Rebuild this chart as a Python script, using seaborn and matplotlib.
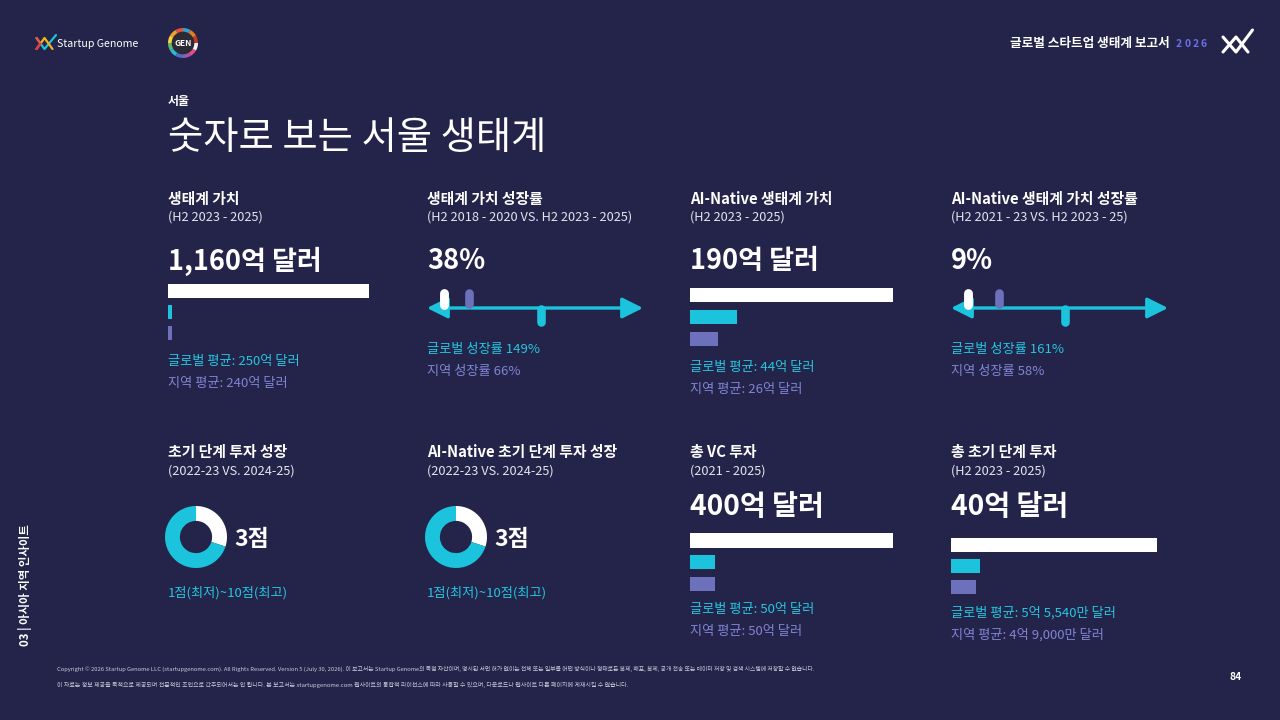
import numpy as np
import pandas as pd
import matplotlib
matplotlib.use("Agg")
import matplotlib.pyplot as plt
import seaborn as sns

# ---------------- data ----------------
row1_titles = ["생태계 가치", "생태계 가치 성장률", "AI-Native 생태계 가치", "AI-Native 생태계 가치 성장률"]
row1_periods = ["(H2 2023 - 2025)", "(H2 2018 - 2020 VS. H2 2023 - 2025)",
                "(H2 2023 - 2025)", "(H2 2021 - 23 VS. H2 2023 - 25)"]
row1_headlines = ["1,160억 달러", "38%", "190억 달러", "9%"]

row2_titles = ["초기 단계 투자 성장", "AI-Native 초기 단계 투자 성장", "총 VC 투자", "총 초기 단계 투자"]
row2_periods = ["(2022-23 VS. 2024-25)", "(2022-23 VS. 2024-25)", "(2021 - 2025)", "(H2 2023 - 2025)"]
row2_headlines = ["3점", "3점", "400억 달러", "40억 달러"]

bar_groups = ["서울", "글로벌 평균", "지역 평균"]
eco_value = [1160, 25, 24]          # 억 달러 (bar lengths as drawn)
ai_eco_value = [190, 44, 26]        # 억 달러
vc_total = [400, 50, 50]            # 억 달러
early_total = [40, 5.554, 4.9]      # 억 달러

eco_value_labels = ["글로벌 평균: 250억 달러", "지역 평균: 240억 달러"]
ai_eco_labels = ["글로벌 평균: 44억 달러", "지역 평균: 26억 달러"]
vc_labels = ["글로벌 평균: 50억 달러", "지역 평균: 50억 달러"]
early_labels = ["글로벌 평균: 5억 5,540만 달러", "지역 평균: 4억 9,000만 달러"]

growth_groups = ["서울", "지역", "글로벌"]
eco_growth = [38, 66, 149]          # %
ai_growth = [9, 58, 161]            # %
eco_growth_labels = ["글로벌 성장률 149%", "지역 성장률 66%"]
ai_growth_labels = ["글로벌 성장률 161%", "지역 성장률 58%"]

score_parts = ["점수", "나머지"]
early_score = [3, 7]                # 3 of 10
ai_early_score = [3, 7]
score_scale_label = "1점(최저)~10점(최고)"

footer_1 = ("Copyright © 2026 Startup Genome LLC (startupgenome.com). All Rights Reserved. Version 5 (July 30, 2026). "
            "이 보고서는 Startup Genome의 독점 자산이며, 명시된 서면 허가 없이는 전체 또는 일부를 어떤 방식이나 형태로든 "
            "복제, 배포, 복제, 공개 전송 또는 데이터 저장 및 검색 시스템에 저장할 수 없습니다.")
footer_2 = ("이 자료는 정보 제공을 목적으로 제공되며 전문적인 조언으로 간주되어서는 안 됩니다. "
            "본 보고서는 startupgenome.com 웹사이트의 통합적 라이선스에 따라 사용할 수 있으며, "
            "다운로드나 웹사이트 다른 페이지에 게재시킬 수 없습니다.")

# ---------------- style ----------------
BG = "#24244a"
WHITE = "#ffffff"
CYAN = "#1bc4dc"
PURPLE = "#6d70bb"
CYAN_TXT = "#25c6df"
PURPLE_TXT = "#8184d3"
SUB_TXT = "#e4e4ee"

sns.set_theme(style="white")
plt.rcParams["font.family"] = ["Noto Sans CJK KR", "DejaVu Sans"]

W, H = 1280, 720
fig = plt.figure(figsize=(12.8, 7.2), dpi=100, facecolor=BG)


def pax(x0, y0, w, h):
    ax = fig.add_axes([x0 / W, 1 - (y0 + h) / H, w / W, h / H])
    ax.set_facecolor("none")
    return ax


ax0 = pax(0, 0, W, H)
ax0.set_xlim(0, W)
ax0.set_ylim(H, 0)
ax0.axis("off")

DY = 2  # baseline correction for the CJK font metrics


def txt(x, y, s, size, color=WHITE, weight="normal", ha="left", **kw):
    ax0.text(x, y + DY, s, fontsize=size, color=color, fontweight=weight, ha=ha, va="center", **kw)


# ---------------- header ----------------
# Startup Genome logo
ax0.plot([36.5, 44.5, 56], [38, 49, 35], color="#1bc4dc", lw=1.6, solid_capstyle="round")
ax0.plot([36.5, 40.5], [38, 43.5], color="#f0523a", lw=1.6, solid_capstyle="round")
ax0.plot([36.5, 44.5, 52.5], [49, 38, 49], color="#f6b21c", lw=1.6, solid_capstyle="round")
ax0.plot([36.5, 40.5], [49, 43.5], color="#e8334a", lw=1.6, solid_capstyle="round")
txt(57, 42, "Startup Genome", 7.6)

# GEN badge
gax = pax(168, 28, 30, 30)
ring_cols = ["#e94f3d", "#f29f2d", "#f7d23e", "#63b76a", "#2fb5d6", "#4a6fc4",
             "#9b59b6", "#e84d8a", "#f4f4f4", "#c0392b", "#e67e22", "#3aa0c8"]
gax.pie([1] * 12, colors=ring_cols, startangle=90, wedgeprops=dict(width=0.3, linewidth=0))
gax.add_patch(plt.Circle((0, 0), 0.71, color="#2b2b35"))
gax.text(0, -0.05, "GEN", color=WHITE, fontsize=6, fontweight="bold", ha="center", va="center")
gax.set_xlim(-1, 1)
gax.set_ylim(-1, 1)

# right header
txt(1170, 42, "글로벌 스타트업 생태계 보고서", 9.1, weight="bold", ha="right")
for k, ch in enumerate("2026"):
    txt(1176 + k * 8.3, 42, ch, 7.4, color="#6b70e6", weight="bold")
ax0.plot([1223, 1236, 1252.5], [37, 52, 30], color=WHITE, lw=2.2, solid_capstyle="round", solid_joinstyle="round")
ax0.plot([1223, 1236, 1248], [52, 37, 52], color=WHITE, lw=2.2, solid_capstyle="round", solid_joinstyle="round")

# titles
txt(168, 100, "서울", 8.6, weight="bold")
txt(168, 136, "숫자로 보는 서울 생태계", 27.6, weight="light")

# side label
ax0.text(25, 585, "03 | 아시아 지역 인사이트", rotation=90, fontsize=8.2, color=WHITE,
         fontweight="bold", ha="center", va="center")

# footer
txt(57, 667, footer_1, 4.2, color="#c9c9d9")
txt(57, 683, footer_2, 4.3, color="#c9c9d9")
txt(1236, 675, "84", 7.4, weight="bold", ha="center")

col_x = [168, 427, 690, 951]

# ---------------- panel texts ----------------
for i in range(4):
    txt(col_x[i], 197, row1_titles[i], 10.7, weight="bold")
    txt(col_x[i], 215, row1_periods[i], 9.2, color=SUB_TXT)
    txt(col_x[i], 259, row1_headlines[i], 19.5, weight="bold")
    txt(col_x[i], 450, row2_titles[i], 10.7, weight="bold")
    txt(col_x[i], 469, row2_periods[i], 9.2, color=SUB_TXT)

txt(col_x[2], 505, row2_headlines[2], 20.3, weight="bold")
txt(col_x[3], 505, row2_headlines[3], 20.3, weight="bold")
txt(234, 537, row2_headlines[0], 16.5, weight="bold")
txt(494, 537, row2_headlines[1], 16.5, weight="bold")

txt(168, 591, score_scale_label, 9.5, color=CYAN_TXT)
txt(427, 591, score_scale_label, 9.5, color=CYAN_TXT)


def label_pair(x, y1, y2, labels):
    txt(x, y1, labels[0], 9.5, color=CYAN_TXT)
    txt(x, y2, labels[1], 9.5, color=PURPLE_TXT)


label_pair(168, 360, 382, eco_value_labels)
label_pair(427, 347, 369, eco_growth_labels)
label_pair(690, 365, 387, ai_eco_labels)
label_pair(951, 347, 369, ai_growth_labels)
label_pair(690, 608, 630, vc_labels)
label_pair(951, 611, 633, early_labels)


# ---------------- bar panels ----------------
def bar_panel(x0, y_top, y_bot, width, values):
    ax = pax(x0, y_top, width, y_bot - y_top)
    df = pd.DataFrame({"group": bar_groups, "value": values})
    sns.barplot(data=df, x="value", y="group", hue="group", order=bar_groups, hue_order=bar_groups,
                palette=[WHITE, CYAN, PURPLE], legend=False, width=0.66, orient="h",
                saturation=1, ax=ax, linewidth=0)
    ax.set_xlim(0, max(values))
    ax.set_ylim(2.5, -0.5)
    ax.axis("off")


bar_panel(168, 280, 344, 201, eco_value)
bar_panel(690, 284, 350, 203, ai_eco_value)
bar_panel(690, 529.5, 595, 203, vc_total)
bar_panel(951, 534, 598, 206, early_total)


# ---------------- growth sliders ----------------
def slider_panel(x0, width, values, xlim):
    ax = pax(x0, 280, width, 55)
    ax.set_xlim(*xlim)
    ax.set_ylim(335, 280)
    ax.axis("off")
    ax.annotate("", xy=(xlim[1], 308), xytext=(xlim[0], 308),
                arrowprops=dict(arrowstyle="<|-|>,head_length=0.9,head_width=0.45",
                                mutation_scale=14, color=CYAN, lw=2.4, shrinkA=0, shrinkB=0),
                annotation_clip=False)
    seoul, regional, glob = values
    ax.plot([glob, glob], [309, 322], color=CYAN, lw=6.2, solid_capstyle="round", zorder=3)
    ax.plot([regional, regional], [293.5, 304.5], color=PURPLE, lw=6.2, solid_capstyle="round", zorder=4)
    ax.plot([seoul, seoul], [293.5, 305], color=WHITE, lw=6.4, solid_capstyle="round", zorder=5)


slider_panel(427, 216, eco_growth, (18.5, 265.6))
slider_panel(951, 217, ai_growth, (-17.6, 322.5))


# ---------------- donuts ----------------
def donut(cx, cy, values):
    ax = pax(cx - 31, cy - 31, 62, 62)
    ax.pie(values, colors=[WHITE, CYAN], startangle=90, counterclock=False,
           wedgeprops=dict(width=0.48, linewidth=0))
    ax.set_xlim(-1.0, 1.0)
    ax.set_ylim(-1.0, 1.0)


donut(196, 537, early_score)
donut(456, 537, ai_early_score)

fig.savefig("out.png", dpi=100, facecolor=BG)
